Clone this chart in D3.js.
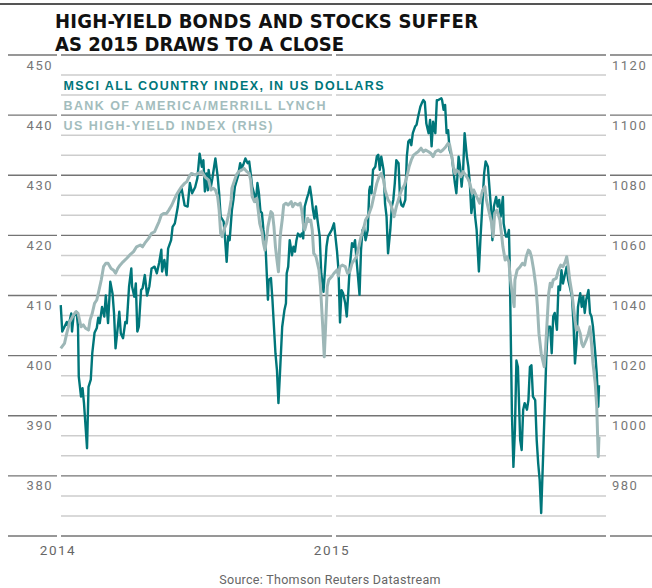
<html lang="en">

<head>
    <meta charset="UTF-8">
    <script type="text/javascript" src="https://cdn.jsdelivr.net/npm/d3@7/dist/d3.min.js"></script>
    <title>High-yield bonds and stocks suffer</title>
    <style>
        body { margin: 0; background: #fff; }
    </style>
</head>

<body>
    <script type="text/javascript">

        //Width and height
        var w = 652;
        var h = 588;

        var titleLines = ["HIGH-YIELD BONDS AND STOCKS SUFFER", "AS 2015 DRAWS TO A CLOSE"];
        var legendLabels = ["MSCI ALL COUNTRY INDEX, IN US DOLLARS", "BANK OF AMERICA/MERRILL LYNCH", "US HIGH-YIELD INDEX (RHS)"];
        var yearLabels = ["2014", "2015"];
        var leftTicks = [380, 390, 400, 410, 420, 430, 440, 450];
        var rightTicks = [980, 1000, 1020, 1040, 1060, 1080, 1100, 1120];
        var sourceText = "Source: Thomson Reuters Datastream";

        // MSCI All Country index (left axis)
        var msciDates = [
            "2014-01-02","2014-01-04","2014-01-10","2014-01-12","2014-01-16","2014-01-17","2014-01-19","2014-01-23","2014-01-25","2014-01-26",
            "2014-01-29","2014-01-31","2014-02-02","2014-02-06","2014-02-08","2014-02-11","2014-02-13","2014-02-16","2014-02-19","2014-02-21",
            "2014-02-23","2014-02-26","2014-03-01","2014-03-03","2014-03-06","2014-03-09","2014-03-12","2014-03-14","2014-03-16","2014-03-19",
            "2014-03-21","2014-03-23","2014-03-26","2014-03-29","2014-03-31","2014-04-03","2014-04-06","2014-04-07","2014-04-10","2014-04-12",
            "2014-04-14","2014-04-16","2014-04-19","2014-04-21","2014-04-24","2014-04-27","2014-04-30","2014-05-03","2014-05-07","2014-05-10",
            "2014-05-13","2014-05-16","2014-05-17","2014-05-20","2014-05-23","2014-05-25","2014-05-29","2014-05-31","2014-06-03","2014-06-07",
            "2014-06-09","2014-06-12","2014-06-16","2014-06-20","2014-06-23","2014-06-26","2014-06-30","2014-07-03","2014-07-06","2014-07-09",
            "2014-07-11","2014-07-13","2014-07-15","2014-07-17","2014-07-18","2014-07-21","2014-07-23","2014-07-26","2014-07-27","2014-07-30",
            "2014-08-01","2014-08-03","2014-08-07","2014-08-09","2014-08-11","2014-08-13","2014-08-15","2014-08-18","2014-08-20","2014-08-22",
            "2014-08-26","2014-08-29","2014-08-31","2014-09-02","2014-09-05","2014-09-08","2014-09-10","2014-09-12","2014-09-14","2014-09-17",
            "2014-09-19","2014-09-21","2014-09-23","2014-09-25","2014-09-27","2014-09-29","2014-10-02","2014-10-05","2014-10-06","2014-10-09",
            "2014-10-11","2014-10-13","2014-10-15","2014-10-17","2014-10-19","2014-10-21","2014-10-24","2014-10-27","2014-10-29","2014-10-30",
            "2014-11-01","2014-11-03","2014-11-06","2014-11-08","2014-11-10","2014-11-12","2014-11-14","2014-11-17","2014-11-19","2014-11-21",
            "2014-11-23","2014-11-26","2014-11-28","2014-11-30","2014-12-02","2014-12-04","2014-12-06","2014-12-08","2014-12-10","2014-12-13",
            "2014-12-15","2014-12-18","2014-12-20","2014-12-22","2014-12-24","2014-12-29","2015-01-01","2015-01-05","2015-01-07","2015-01-09",
            "2015-01-11","2015-01-13","2015-01-16","2015-01-18","2015-01-20","2015-01-22","2015-01-25","2015-01-27","2015-01-29","2015-01-31",
            "2015-02-02","2015-02-04","2015-02-06","2015-02-08","2015-02-10","2015-02-12","2015-02-15","2015-02-17","2015-02-18","2015-02-20",
            "2015-02-22","2015-02-25","2015-02-27","2015-03-01","2015-03-03","2015-03-05","2015-03-08","2015-03-10","2015-03-12","2015-03-14",
            "2015-03-17","2015-03-19","2015-03-21","2015-03-23","2015-03-25","2015-03-28","2015-03-30","2015-04-01","2015-04-03","2015-04-06",
            "2015-04-08","2015-04-10","2015-04-12","2015-04-14","2015-04-16","2015-04-19","2015-04-21","2015-04-23","2015-04-26","2015-04-28",
            "2015-04-30","2015-05-02","2015-05-04","2015-05-07","2015-05-09","2015-05-11","2015-05-13","2015-05-16","2015-05-18","2015-05-20",
            "2015-05-24","2015-05-25","2015-05-27","2015-05-29","2015-05-31","2015-06-02","2015-06-04","2015-06-07","2015-06-09","2015-06-11",
            "2015-06-13","2015-06-16","2015-06-18","2015-06-20","2015-06-22","2015-06-24","2015-06-27","2015-06-29","2015-07-01","2015-07-03",
            "2015-07-06","2015-07-08","2015-07-10","2015-07-13","2015-07-15","2015-07-18","2015-07-20","2015-07-22","2015-07-25","2015-07-28",
            "2015-07-30","2015-07-31","2015-08-02","2015-08-05","2015-08-07","2015-08-09","2015-08-11","2015-08-14","2015-08-15","2015-08-18",
            "2015-08-20","2015-08-22","2015-08-23","2015-08-26","2015-08-28","2015-08-30","2015-09-01","2015-09-03","2015-09-06","2015-09-08",
            "2015-09-10","2015-09-12","2015-09-15","2015-09-17","2015-09-19","2015-09-21","2015-09-23","2015-09-26","2015-09-28","2015-09-30",
            "2015-10-02","2015-10-04","2015-10-07","2015-10-09","2015-10-11","2015-10-13","2015-10-16","2015-10-18","2015-10-20","2015-10-22",
            "2015-10-25","2015-10-27","2015-10-29","2015-10-31","2015-11-02","2015-11-05","2015-11-07","2015-11-09","2015-11-11","2015-11-14",
            "2015-11-16","2015-11-18","2015-11-20","2015-11-22","2015-11-25","2015-11-27","2015-11-29","2015-12-01","2015-12-03","2015-12-06",
            "2015-12-08","2015-12-10","2015-12-12","2015-12-15","2015-12-17","2015-12-19","2015-12-20"
        ];
        var msciValues = [
            408.4,404,405.6,404.8,407,404,406.5,407.3,404.8,396.5,
            393.2,394.6,392,384.6,394.8,396,400.4,403.8,404.6,406.3,
            405.4,408.1,406.5,410,405.4,412.3,410.3,407,401.2,404.8,
            407.3,403.7,402.9,405.6,405.4,411.5,414.5,411.5,409.8,412,
            404,404.8,410.9,411.2,413.4,410,411.5,414.5,414.8,413.7,
            415.4,417.6,414,415.9,413.4,417.8,419.2,421.4,422,424.8,
            427,427.8,425,424.8,428.7,427,428,429.5,433.6,431.4,
            432.5,427.3,430.3,427.5,430.9,428.1,429.5,432,432.8,429.8,
            427,423.1,422.3,419.2,415.6,419.8,419.2,424.2,425.9,428.1,
            429.8,432,431.2,431.7,432.8,432,432.3,430.3,428.1,426.7,
            425.6,428.7,427,424,423.7,420.9,417.6,409.3,412.6,412.9,
            409.3,404.8,400.4,397.6,392.1,397,404.8,407.6,408.7,413.7,
            414.8,419.2,416.7,418.1,417.3,419.2,420.3,419.8,420.3,419.5,
            424.8,426.2,427,428.1,426.4,424.2,422.8,424.8,422.6,419.8,
            413.7,410.6,414.2,418.1,419.8,420.9,422,417.4,414.2,405.5,
            410.9,410.4,408.7,406.5,410.4,414.8,418.7,418.1,419.2,415.9,
            413.1,410.1,417.6,420.9,421.4,419.2,420.9,427.5,428.1,427,
            430.9,431.4,433.1,433.4,430.9,433.1,430.9,425.3,423.1,417,
            420.9,424.8,425.9,428.7,432.5,432,425.9,425,424.8,425.9,
            433.1,435.6,435.9,435,437,438.1,438.4,439.7,441.4,442,
            442.5,442.2,438.6,437,439.2,434.8,438.9,437,442.5,442.5,
            442.8,442.5,440.9,441.7,437,437.5,434.2,433.1,430.9,428.7,
            427,433.1,431.4,428.1,430.9,437,433.1,431.4,428.5,423.7,
            426.7,423.1,420.9,414,419.2,425.9,430.3,432.3,431.4,426.4,
            423.1,419.2,424.8,426.4,424.8,425.9,423.1,426.4,422,419.8,
            419.8,420.9,415.9,390.4,381.5,387.6,399.2,398.1,386,384.3,
            391,392.1,391,392.6,398.1,398.4,393.2,392.6,386,382.1,
            379.3,373.8,384.9,392.6,400.4,404.8,404.8,400.4,406.5,407.1,
            404.3,411.5,410.9,414.2,412,413.7,414.8,412.6,411.5,409.8,
            405.4,398.7,402,408.1,410.4,408.1,409.8,407.1,409.3,410.9,
            407.1,406.5,404.8,400.4,397,391.5,395.1
        ];

        // BofA Merrill Lynch US high-yield index (right axis)
        var hyDates = [
            "2014-01-02","2014-01-07","2014-01-10","2014-01-14","2014-01-19","2014-01-22","2014-01-25","2014-01-29","2014-02-01","2014-02-04",
            "2014-02-08","2014-02-10","2014-02-13","2014-02-16","2014-02-19","2014-02-21","2014-02-25","2014-02-28","2014-03-03","2014-03-06",
            "2014-03-10","2014-03-13","2014-03-16","2014-03-19","2014-03-22","2014-03-26","2014-03-31","2014-04-04","2014-04-09","2014-04-13",
            "2014-04-18","2014-04-21","2014-04-24","2014-04-29","2014-05-03","2014-05-07","2014-05-10","2014-05-13","2014-05-16","2014-05-19",
            "2014-05-23","2014-05-26","2014-05-30","2014-06-02","2014-06-05","2014-06-09","2014-06-12","2014-06-16","2014-06-19","2014-06-22",
            "2014-06-25","2014-06-30","2014-07-04","2014-07-09","2014-07-13","2014-07-18","2014-07-21","2014-07-24","2014-07-27","2014-07-30",
            "2014-08-01","2014-08-03","2014-08-05","2014-08-08","2014-08-11","2014-08-14","2014-08-17","2014-08-18","2014-08-21","2014-08-24",
            "2014-08-27","2014-08-31","2014-09-03","2014-09-07","2014-09-10","2014-09-12","2014-09-14","2014-09-17","2014-09-20","2014-09-22",
            "2014-09-24","2014-09-27","2014-09-29","2014-10-01","2014-10-03","2014-10-05","2014-10-09","2014-10-11","2014-10-13","2014-10-15",
            "2014-10-17","2014-10-19","2014-10-21","2014-10-22","2014-10-24","2014-10-26","2014-10-29","2014-11-01","2014-11-05","2014-11-07",
            "2014-11-10","2014-11-14","2014-11-17","2014-11-19","2014-11-21","2014-11-23","2014-11-27","2014-11-29","2014-12-01","2014-12-03",
            "2014-12-05","2014-12-08","2014-12-10","2014-12-12","2014-12-14","2014-12-15","2014-12-17","2014-12-19","2014-12-21","2014-12-23",
            "2014-12-25","2014-12-29","2015-01-01","2015-01-05","2015-01-07","2015-01-09","2015-01-12","2015-01-16","2015-01-19","2015-01-22",
            "2015-01-25","2015-01-28","2015-01-31","2015-02-03","2015-02-06","2015-02-09","2015-02-12","2015-02-16","2015-02-20","2015-02-24",
            "2015-02-27","2015-03-02","2015-03-05","2015-03-08","2015-03-10","2015-03-14","2015-03-17","2015-03-20","2015-03-22","2015-03-25",
            "2015-03-29","2015-04-01","2015-04-05","2015-04-08","2015-04-11","2015-04-14","2015-04-17","2015-04-20","2015-04-23","2015-04-27",
            "2015-04-30","2015-05-03","2015-05-07","2015-05-10","2015-05-13","2015-05-16","2015-05-20","2015-05-23","2015-05-26","2015-05-30",
            "2015-06-02","2015-06-04","2015-06-07","2015-06-09","2015-06-11","2015-06-13","2015-06-16","2015-06-19","2015-06-22","2015-06-25",
            "2015-06-28","2015-07-01","2015-07-04","2015-07-06","2015-07-10","2015-07-14","2015-07-18","2015-07-21","2015-07-23","2015-07-27",
            "2015-07-30","2015-08-01","2015-08-03","2015-08-06","2015-08-10","2015-08-12","2015-08-14","2015-08-17","2015-08-19","2015-08-22",
            "2015-08-24","2015-08-27","2015-08-29","2015-08-30","2015-09-02","2015-09-06","2015-09-09","2015-09-12","2015-09-14","2015-09-17",
            "2015-09-19","2015-09-21","2015-09-24","2015-09-27","2015-09-29","2015-10-01","2015-10-04","2015-10-06","2015-10-08","2015-10-10",
            "2015-10-12","2015-10-14","2015-10-16","2015-10-18","2015-10-20","2015-10-24","2015-10-27","2015-10-30","2015-11-02","2015-11-05",
            "2015-11-07","2015-11-09","2015-11-11","2015-11-14","2015-11-16","2015-11-18","2015-11-20","2015-11-22","2015-11-25","2015-11-27",
            "2015-11-29","2015-12-01","2015-12-03","2015-12-06","2015-12-08","2015-12-10","2015-12-12","2015-12-15","2015-12-17","2015-12-19",
            "2015-12-20"
        ];
        var hyValues = [
            1022.4,1024.1,1027.4,1031.3,1033.5,1034.6,1034.1,1029.6,1030.2,1029.1,
            1028.5,1031.8,1034.1,1037.4,1038.5,1040.7,1045.2,1049.6,1050.7,1050.7,
            1049,1048.5,1047.4,1049,1050.1,1051.2,1052.4,1053.5,1054.6,1056.2,
            1056.8,1056.2,1057.4,1059,1060.7,1061.2,1062.9,1064.6,1066.8,1067.3,
            1067.3,1068.4,1070.1,1071.8,1073.4,1075.1,1076.2,1077.3,1077.9,1079.5,
            1080.6,1080.1,1080.6,1081.2,1079.5,1078.4,1075.1,1075.7,1075.1,1072.9,
            1068.4,1060.7,1059.6,1062.3,1064,1067.3,1071.8,1075.7,1077.9,1080.1,
            1081.2,1081.7,1082.3,1081.2,1080.6,1078.4,1072.9,1071.2,1072.3,1068.4,
            1064,1061.2,1057.4,1055.1,1058.5,1062.9,1067.9,1067.3,1062.9,1056.2,
            1051.8,1047.9,1058.5,1061.2,1065.1,1070.1,1070.7,1070.1,1071.2,1069.5,
            1070.7,1070.1,1070.7,1068.4,1064,1061.8,1065.7,1064.6,1065.1,1061.8,
            1054,1052.9,1050.7,1048.5,1042.9,1038.5,1029.6,1019.6,1030.7,1042.9,
            1045.2,1046.3,1047.4,1048.5,1046.5,1049.6,1050.1,1049.6,1047.4,1047.9,
            1050.7,1051.8,1052.9,1056.2,1059.6,1061.8,1065.1,1066.8,1069.5,1074,
            1077.3,1079.5,1080.6,1078.4,1075.1,1071.8,1070.7,1068.4,1066.2,1069.5,
            1072.9,1075.1,1076.8,1079.5,1082.8,1085.1,1086.7,1087.3,1087.8,1089,
            1087.8,1088.4,1087.8,1087.3,1086.2,1087.8,1088.4,1087.8,1088.4,1089.5,
            1090.6,1090.1,1086.2,1082.8,1080.6,1081.7,1081.2,1079.5,1081.2,1080.1,
            1079,1077.3,1074,1075.1,1072.9,1070.7,1075.1,1076.2,1071.8,1067.3,
            1064,1059.6,1067.3,1068.4,1065.1,1060.7,1056.2,1051.8,1052.9,1051.2,
            1045.2,1039.6,1036.3,1045.2,1048.5,1049.6,1050.7,1050.1,1052.9,1055.1,
            1054.6,1052.9,1048.5,1042.9,1036.3,1027.4,1020.8,1018.5,1016.3,1023,
            1031.8,1040.7,1044.1,1042.9,1045.2,1045.7,1048.5,1050.1,1049.6,1051.2,
            1052.9,1049.6,1045.2,1040.7,1036.3,1031.8,1028.5,1029.6,1027.4,1024.1,
            1023,1024.1,1025.2,1027.4,1029.6,1024.1,1017.4,1010.8,1003,986.4,
            993
        ];

        var parseTime = d3.timeParse("%Y-%m-%d");

        var msci = msciDates.map(function (d, i) { return { date: parseTime(d), value: msciValues[i] }; });
        var hy = hyDates.map(function (d, i) { return { date: parseTime(d), value: hyValues[i] }; });

        var teal = "#00767a";
        var grey = "#9db7b7";

        var xScale = d3.scaleTime()
            .domain([new Date(2014, 0, 1), new Date(2016, 0, 1)])
            .range([60, 608]);

        var yLeft = d3.scaleLinear().domain([370, 450]).range([536, 55]);
        var yRight = d3.scaleLinear().domain([960, 1120]).range([536, 55]);

        var svg = d3.select("body")
            .append("svg")
            .attr("width", w)
            .attr("height", h);

        // top rule
        svg.append("line")
            .attr("x1", 0).attr("x2", w)
            .attr("y1", 4).attr("y2", 4)
            .attr("stroke", "#555").attr("stroke-width", 2);

        // title
        svg.selectAll("text.title")
            .data(titleLines)
            .enter()
            .append("text")
            .attr("class", "title")
            .attr("x", 55)
            .attr("y", function (d, i) { return 28 + i * 22.5; })
            .attr("textLength", function (d, i) { return i == 0 ? 423 : 289; })
            .attr("lengthAdjust", "spacing")
            .attr("font-family", "'Liberation Sans Narrow', 'DejaVu Sans Condensed', sans-serif")
            .attr("font-weight", "bold")
            .attr("font-size", "20px")
            .attr("fill", "#111")
            .text(function (d) { return d; });

        // gridlines, split at year boundaries
        var years = [new Date(2014, 0, 1), new Date(2015, 0, 1), new Date(2016, 0, 1)];
        var segments = [
            [xScale(years[0]) + 1, xScale(years[1]) - 2],
            [xScale(years[1]) + 2, xScale(years[2]) - 2]
        ];
        var majors = d3.range(370, 451, 10);
        var minors = [];
        majors.slice(0, -1).forEach(function (v) { minors.push(v + 10 / 3, v + 20 / 3); });

        var grid = svg.append("g");
        minors.forEach(function (v) {
            segments.forEach(function (s) {
                grid.append("line")
                    .attr("x1", s[0]).attr("x2", s[1])
                    .attr("y1", yLeft(v)).attr("y2", yLeft(v))
                    .attr("stroke", "#cdcdcd").attr("stroke-width", 1.5);
            });
        });
        majors.forEach(function (v) {
            var segs = [[8, xScale(years[0]) - 3]].concat(segments).concat([[xScale(years[2]) + 2, w]]);
            segs.forEach(function (s) {
                grid.append("line")
                    .attr("x1", s[0]).attr("x2", s[1])
                    .attr("y1", yLeft(v)).attr("y2", yLeft(v))
                    .attr("stroke", "#747474").attr("stroke-width", 1.3);
            });
        });

        // axis labels
        svg.selectAll("text.left")
            .data(leftTicks)
            .enter()
            .append("text")
            .attr("class", "left")
            .attr("x", 53)
            .attr("y", function (d) { return yLeft(d) + 14.5; })
            .attr("text-anchor", "end")
            .attr("font-family", "Roboto, sans-serif")
            .attr("font-size", "13px")
            .attr("letter-spacing", "1.5px")
            .attr("fill", "#777")
            .text(function (d) { return d; });

        svg.selectAll("text.right")
            .data(rightTicks)
            .enter()
            .append("text")
            .attr("class", "right")
            .attr("x", 612)
            .attr("y", function (d) { return yRight(d) + 14.5; })
            .attr("font-family", "Roboto, sans-serif")
            .attr("font-size", "13px")
            .attr("letter-spacing", "1.5px")
            .attr("fill", "#777")
            .text(function (d) { return d; });

        svg.selectAll("text.year")
            .data(yearLabels)
            .enter()
            .append("text")
            .attr("class", "year")
            .attr("x", function (d) { return xScale(parseTime(d + "-01-01")) - 2; })
            .attr("y", 555)
            .attr("text-anchor", "middle")
            .attr("font-family", "Roboto, sans-serif")
            .attr("font-size", "13.5px")
            .attr("letter-spacing", "1.5px")
            .attr("fill", "#666")
            .text(function (d) { return d; });

        // lines
        var lineLeft = d3.line()
            .x(function (d) { return xScale(d.date); })
            .y(function (d) { return yLeft(d.value); });

        var lineRight = d3.line()
            .x(function (d) { return xScale(d.date); })
            .y(function (d) { return yRight(d.value); });

        svg.append("path")
            .datum(msci)
            .attr("d", lineLeft)
            .attr("fill", "none")
            .attr("stroke", teal)
            .attr("stroke-width", 2.4)
            .attr("stroke-linejoin", "round");

        svg.append("path")
            .datum(hy)
            .attr("d", lineRight)
            .attr("fill", "none")
            .attr("stroke", grey)
            .attr("stroke-width", 3)
            .attr("stroke-linejoin", "round");

        // legend
        svg.selectAll("text.legend")
            .data(legendLabels)
            .enter()
            .append("text")
            .attr("class", "legend")
            .attr("x", 63.5)
            .attr("y", function (d, i) { return [89.5, 110, 130][i]; })
            .attr("textLength", function (d, i) { return [320, 262, 209][i]; })
            .attr("lengthAdjust", "spacing")
            .attr("font-family", "'Liberation Sans', Arial, sans-serif")
            .attr("font-weight", "bold")
            .attr("font-size", "12.5px")
            .attr("fill", function (d, i) { return i == 0 ? teal : "#a3bdbd"; })
            .text(function (d) { return d; });

        // source
        svg.append("text")
            .attr("x", 330)
            .attr("y", 584)
            .attr("text-anchor", "middle")
            .attr("font-family", "Roboto, sans-serif")
            .attr("font-size", "12.5px")
            .attr("letter-spacing", "0.3px")
            .attr("fill", "#666")
            .text(sourceText);

    </script>

</body>

</html>
